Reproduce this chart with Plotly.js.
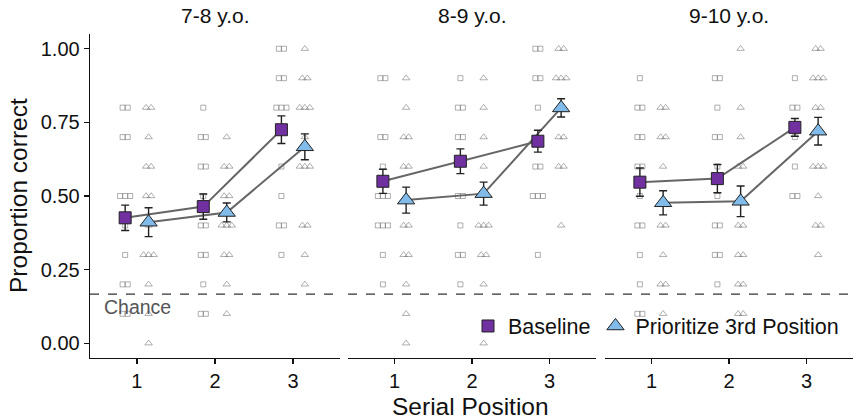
<!DOCTYPE html>
<html>
<head>
<meta charset="utf-8">
<script src="https://cdn.plot.ly/plotly-3.0.1.min.js"></script>
<style>html,body{margin:0;padding:0;background:#fff;}#chart{width:856px;height:420px;}</style>
</head>
<body>
<div id="chart"></div>
<script>
// ---- data ----
const panels = ["7-8 y.o.", "8-9 y.o.", "9-10 y.o."];
const positions = [1, 2, 3];
const tickLabelsY = ["0.00", "0.25", "0.50", "0.75", "1.00"];
const tickValsY = [0, 0.25, 0.5, 0.75, 1];
const chance = 1 / 6;

// condition means and standard errors per panel
const meanBase78 = [0.426, 0.464, 0.725];
const errBase78  = [0.043, 0.043, 0.047];
const meanPrio78 = [0.411, 0.444, 0.667];
const errPrio78  = [0.049, 0.032, 0.044];

const meanBase89 = [0.550, 0.618, 0.686];
const errBase89  = [0.041, 0.042, 0.037];
const meanPrio89 = [0.486, 0.508, 0.799];
const errPrio89  = [0.044, 0.039, 0.031];

const meanBase910 = [0.547, 0.559, 0.733];
const errBase910  = [0.048, 0.048, 0.030];
const meanPrio910 = [0.477, 0.482, 0.720];
const errPrio910  = [0.041, 0.052, 0.047];

// individual participant proportions (serial position 1, 2, 3)
const rawBase78 = [
  [0.8,0.8,0.7,0.7,0.5,0.5,0.5,0.4,0.3,0.2,0.2,0.1,0.1],
  [0.8,0.7,0.7,0.6,0.6,0.5,0.4,0.4,0.3,0.3,0.2,0.1,0.1],
  [1.0,1.0,0.9,0.9,0.8,0.8,0.8,0.6,0.5,0.4,0.4,0.3]
];
const rawPrio78 = [
  [0.8,0.8,0.7,0.6,0.6,0.5,0.5,0.4,0.3,0.3,0.3,0.2,0.1,0.0],
  [0.7,0.6,0.6,0.5,0.5,0.4,0.4,0.4,0.3,0.3,0.2,0.1],
  [1.0,0.9,0.9,0.8,0.8,0.8,0.7,0.6,0.6,0.6,0.4,0.4,0.3,0.2]
];
const rawBase89 = [
  [0.9,0.9,0.7,0.7,0.6,0.5,0.5,0.5,0.4,0.4,0.4,0.3,0.2],
  [0.9,0.8,0.8,0.7,0.7,0.5,0.5,0.4,0.3,0.3,0.2],
  [1.0,1.0,0.9,0.9,0.8,0.6,0.6,0.5,0.5,0.5,0.3]
];
const rawPrio89 = [
  [0.9,0.8,0.7,0.7,0.6,0.6,0.5,0.4,0.4,0.3,0.3,0.2,0.1,0.0],
  [0.9,0.8,0.7,0.6,0.4,0.4,0.4,0.3,0.3,0.2,0.0],
  [1.0,1.0,0.9,0.9,0.9,0.7,0.7,0.6,0.6,0.4]
];
const rawBase910 = [
  [0.9,0.8,0.8,0.7,0.7,0.6,0.6,0.5,0.4,0.4,0.3,0.2,0.1,0.1],
  [0.9,0.9,0.8,0.7,0.7,0.6,0.5,0.4,0.4,0.3,0.3,0.2],
  [0.9,0.8,0.8,0.7,0.6,0.5,0.5]
];
const rawPrio910 = [
  [0.8,0.8,0.7,0.7,0.6,0.4,0.4,0.3,0.2,0.2,0.1],
  [1.0,0.8,0.7,0.6,0.6,0.4,0.4,0.3,0.3,0.2,0.2,0.1,0.1],
  [1.0,1.0,0.9,0.9,0.9,0.8,0.8,0.6,0.6,0.6,0.5,0.4,0.4,0.3]
];

const seriesNames = ["Baseline", "Prioritize 3rd Position"];

// ---- drawing ----
const W = 856, H = 420;
const panelPx = [[90, 340], [348, 596], [605, 853]];
const plotTop = 34, plotBottom = 358;
const dodge = 0.15;
const purple = "#7030A0", blue = "#80BBEA";

const means = [[meanBase78, meanPrio78], [meanBase89, meanPrio89], [meanBase910, meanPrio910]];
const errs  = [[errBase78, errPrio78], [errBase89, errPrio89], [errBase910, errPrio910]];
const raws  = [[rawBase78, rawPrio78], [rawBase89, rawPrio89], [rawBase910, rawPrio910]];

function spread(vals, center) {
  // place identical values side by side around the dodge centre
  const xs = [];
  const counts = {}, seen = {};
  vals.forEach(v => { counts[v] = (counts[v] || 0) + 1; });
  vals.forEach(v => {
    const k = seen[v] || 0; seen[v] = k + 1;
    const n = counts[v];
    xs.push(center + (k - (n - 1) / 2) * 0.065);
  });
  return xs;
}

const traces = [];
const fontFam = "Liberation Sans, Arial, Helvetica, sans-serif";
for (let p = 0; p < 3; p++) {
  const xa = p === 0 ? "x" : "x" + (p + 1);
  for (let s = 0; s < 2; s++) {
    const off = s === 0 ? -dodge : dodge;
    const xs = [], ys = [];
    raws[p][s].forEach((vals, i) => {
      const sx = spread(vals, positions[i] + off);
      vals.forEach((v, j) => { xs.push(sx[j]); ys.push(v); });
    });
    traces.push({
      type: "scatter", mode: "markers", x: xs, y: ys, xaxis: xa, yaxis: "y",
      showlegend: false, hoverinfo: "skip",
      marker: { symbol: s === 0 ? "square-open" : "triangle-up-open", size: s === 0 ? 5 : 6.5,
                color: "rgba(110,110,110,0.55)", line: { width: 1 } }
    });
  }
  for (let s = 0; s < 2; s++) {
    const off = s === 0 ? -dodge : dodge;
    traces.push({
      type: "scatter", mode: "lines", x: positions.map(v => v + off), y: means[p][s],
      xaxis: xa, yaxis: "y", showlegend: false, hoverinfo: "skip",
      line: { color: "#666666", width: 2 }
    });
  }
  for (let s = 0; s < 2; s++) {
    const off = s === 0 ? -dodge : dodge;
    traces.push({
      type: "scatter", mode: "markers", name: seriesNames[s],
      x: positions.map(v => v + off), y: means[p][s], xaxis: xa, yaxis: "y",
      showlegend: p === 0, legendgroup: "g" + s,
      error_y: { type: "data", array: errs[p][s], visible: true, color: "#222", thickness: 1.4, width: 4 },
      marker: { symbol: s === 0 ? "square" : "triangle-up", size: s === 0 ? 12 : 15,
                color: s === 0 ? purple : blue, line: { color: "#222", width: 1 } }
    });
  }
}

function xAxis(p) {
  return {
    domain: [panelPx[p][0] / W, panelPx[p][1] / W], anchor: "y",
    range: [0.4, 3.6], tickvals: positions, ticktext: positions.map(String),
    showline: true, linecolor: "#111", linewidth: 1.3, mirror: false,
    ticks: "outside", ticklen: 5, tickwidth: 1.3, tickcolor: "#111",
    tickfont: { family: fontFam, size: 20, color: "#111" },
    showgrid: false, zeroline: false, fixedrange: true
  };
}

const shapes = [0, 1, 2].map(p => ({
  type: "line", xref: (p === 0 ? "x" : "x" + (p + 1)) + " domain", yref: "y",
  x0: 0, x1: 1, y0: chance, y1: chance,
  line: { color: "#333", width: 1.3, dash: "dash" }
}));

const annotations = panels.map((t, p) => ({
  text: t, xref: "paper", yref: "paper",
  x: (panelPx[p][0] + panelPx[p][1]) / 2 / W, y: (H - 16) / H,
  xanchor: "center", yanchor: "middle", showarrow: false,
  font: { family: fontFam, size: 21, color: "#111" }
}));
annotations.push({
  text: "Chance", xref: "paper", yref: "paper", x: 102 / W, y: (H - 307) / H,
  xanchor: "left", yanchor: "middle", showarrow: false,
  font: { family: fontFam, size: 19.5, color: "#555" }
});
annotations.push({
  text: "Serial Position", xref: "paper", yref: "paper", x: 470 / W, y: (H - 406) / H,
  xanchor: "center", yanchor: "middle", showarrow: false,
  font: { family: fontFam, size: 24.5, color: "#111" }
});
annotations.push({
  text: "Proportion correct", xref: "paper", yref: "paper", x: 18 / W, y: (H - 196) / H,
  xanchor: "center", yanchor: "middle", showarrow: false, textangle: -90,
  font: { family: fontFam, size: 24.5, color: "#111" }
});

const layout = {
  width: W, height: H, margin: { l: 0, r: 0, t: 0, b: 0 },
  paper_bgcolor: "#fff", plot_bgcolor: "#fff",
  font: { family: fontFam, color: "#111" },
  xaxis: xAxis(0), xaxis2: xAxis(1), xaxis3: xAxis(2),
  yaxis: {
    domain: [(H - plotBottom) / H, (H - plotTop) / H], anchor: "x",
    range: [-0.05, 1.05], tickvals: tickValsY, ticktext: tickLabelsY,
    showline: true, linecolor: "#111", linewidth: 1.3,
    ticks: "outside", ticklen: 5, tickwidth: 1.3, tickcolor: "#111",
    tickfont: { family: fontFam, size: 20, color: "#111" },
    showgrid: false, zeroline: false, fixedrange: true
  },
  showlegend: true,
  legend: {
    orientation: "h", x: 844 / W, xanchor: "right", y: (H - 326) / H, yanchor: "middle",
    bgcolor: "rgba(0,0,0,0)", font: { family: fontFam, size: 21.5, color: "#111" },
    itemwidth: 30, tracegroupgap: 0
  },
  shapes: shapes, annotations: annotations
};

Plotly.newPlot("chart", traces, layout, { staticPlot: true, displayModeBar: false });
</script>
</body>
</html>
